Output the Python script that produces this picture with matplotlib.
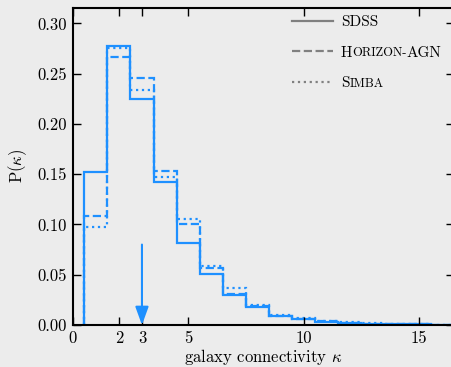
import numpy as np
import matplotlib
matplotlib.use("Agg")
import matplotlib.pyplot as plt

# connectivity bins (integer kappa, centred bins)
kappa = np.arange(1, 17)
edges = np.append(kappa - 0.5, kappa[-1] + 0.5)

p_sdss = [0.152, 0.277, 0.225, 0.142, 0.0815, 0.051, 0.030, 0.018,
          0.0085, 0.0057, 0.0033, 0.002, 0.0013, 0.0009, 0.0006, 0.0003]
p_hagn = [0.108, 0.2665, 0.246, 0.153, 0.1005, 0.057, 0.031, 0.019,
          0.009, 0.006, 0.0035, 0.0022, 0.0015, 0.001, 0.0006, 0.0003]
p_simba = [0.097, 0.275, 0.2335, 0.147, 0.1057, 0.0588, 0.0365, 0.0195,
           0.010, 0.0065, 0.0042, 0.0028, 0.0018, 0.0012, 0.0007, 0.0004]

x_ticks = [0, 2, 3, 5, 10, 15]
y_ticks = [0.0, 0.05, 0.10, 0.15, 0.20, 0.25, 0.30]
kappa_mark = 3
arrow_top = 0.08

BLUE = "#1e90ff"
BG = "#ececec"

plt.rcParams["font.family"] = "serif"
plt.rcParams["font.serif"] = ["cmr10"]
plt.rcParams["mathtext.fontset"] = "cm"
plt.rcParams["axes.formatter.use_mathtext"] = True
plt.rcParams["font.size"] = 12

fig = plt.figure(figsize=(4.52, 3.67), dpi=100, facecolor=BG)
ax = fig.add_axes([0.1608, 0.1144, 0.843, 0.865], facecolor=BG)

ax.stairs(p_sdss, edges, baseline=0, color=BLUE, lw=1.6, ls="-")
ax.stairs(p_hagn, edges, baseline=0, color=BLUE, lw=1.6, ls="--")
ax.stairs(p_simba, edges, baseline=0, color=BLUE, lw=1.6, ls=":")

ax.annotate("", xy=(kappa_mark, 0), xytext=(kappa_mark, arrow_top),
            arrowprops=dict(arrowstyle="-|>,head_length=1.1,head_width=0.4",
                            color=BLUE, lw=1.5, shrinkA=0, shrinkB=0,
                            mutation_scale=10))

ax.set_xlim(0, 16.5)
ax.set_ylim(0, 0.3157)
ax.set_xticks(x_ticks)
ax.set_xticklabels([str(t) for t in x_ticks])
ax.set_yticks(y_ticks)
ax.set_yticklabels([f"{t:.2f}" for t in y_ticks])
ax.tick_params(direction="in", top=True, right=True, length=6, width=1,
               labelsize=12, pad=4)
for s in ax.spines.values():
    s.set_linewidth(1.5)

ax.set_xlabel(r"galaxy connectivity $\kappa$", fontsize=12, labelpad=1)
ax.set_ylabel(r"P($\kappa$)", fontsize=12, labelpad=6)

# legend handles in grey, small caps faked with two font sizes
h1, = ax.plot([], [], color="gray", lw=1.6, ls="-")
h2, = ax.plot([], [], color="gray", lw=1.6, ls="--")
h3, = ax.plot([], [], color="gray", lw=1.6, ls=":")
leg = ax.legend([h1, h2, h3], ["SDSS", "H", "S"], loc="upper left",
                bbox_to_anchor=(0.5756, 0.975), frameon=False, fontsize=11,
                borderpad=0, borderaxespad=0,
                handlelength=2.7, handletextpad=0.5, labelspacing=1.1)
leg_texts = leg.get_texts()
pieces = [(leg_texts[1], [("ORIZON-", 9, 0.4), ("AGN", 11, -0.4)]),
          (leg_texts[2], [("IMBA", 9, 0.4)])]
for t, parts in pieces:
    prev = t
    for txt, size, dy in parts:
        prev = ax.annotate(txt, xy=(1, 0), xycoords=prev, xytext=(0, dy),
                           textcoords="offset points", ha="left",
                           va="bottom", fontsize=size, zorder=10)

fig.savefig("out.png", dpi=100, facecolor=BG)
